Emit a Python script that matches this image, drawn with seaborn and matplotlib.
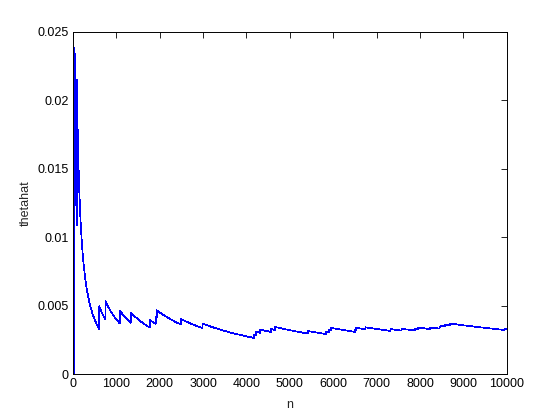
import numpy as np
import pandas as pd
import matplotlib
matplotlib.use("Agg")
import matplotlib.pyplot as plt
import seaborn as sns

# Trial numbers (n) at which a success occurred
success_n = [42, 93, 607, 753, 1083, 1336, 1774, 1912, 1935, 2496, 2988,
             4175, 4215, 4320, 4562, 4662, 5422, 5835, 5900, 5950,
             6500, 6520, 6743, 7320, 7572, 7880, 7950, 8225, 8450, 8470,
             8570, 8690, 9950]
n_total = 10000

x_ticks = [0, 1000, 2000, 3000, 4000, 5000, 6000, 7000, 8000, 9000, 10000]
y_ticks = [0, 0.005, 0.01, 0.015, 0.02, 0.025]
y_tick_labels = ["0", "0.005", "0.01", "0.015", "0.02", "0.025"]

n = np.arange(1, n_total + 1)
hits = np.isin(n, success_n).astype(int)
thetahat = np.cumsum(hits) / n
df = pd.DataFrame({"n": n, "thetahat": thetahat})

sns.set_style("white")
plt.rcParams["font.family"] = ["Liberation Sans", "DejaVu Sans"]

fig = plt.figure(figsize=(5.6, 4.2), dpi=100)
ax = fig.add_axes([0.130, 0.1095, 0.775, 0.8155])

sns.lineplot(data=df, x="n", y="thetahat", ax=ax, color="#0000ff",
             linewidth=0.5, estimator=None, antialiased=False)

ax.set_xlim(0, 10000)
ax.set_ylim(0, 0.025)
ax.set_xticks(x_ticks)
ax.set_xticklabels([str(t) for t in x_ticks])
ax.set_yticks(y_ticks)
ax.set_yticklabels(y_tick_labels)
ax.tick_params(direction="in", length=4, width=0.6, top=True, right=True,
               labelsize=9, colors="black", pad=3)
for s in ax.spines.values():
    s.set_visible(True)
    s.set_color("black")
    s.set_linewidth(0.7)
ax.set_xlabel("n", fontsize=9, labelpad=6)
ax.set_ylabel("thetahat", fontsize=9, labelpad=4)

fig.savefig("out.png", dpi=100, facecolor="white")
